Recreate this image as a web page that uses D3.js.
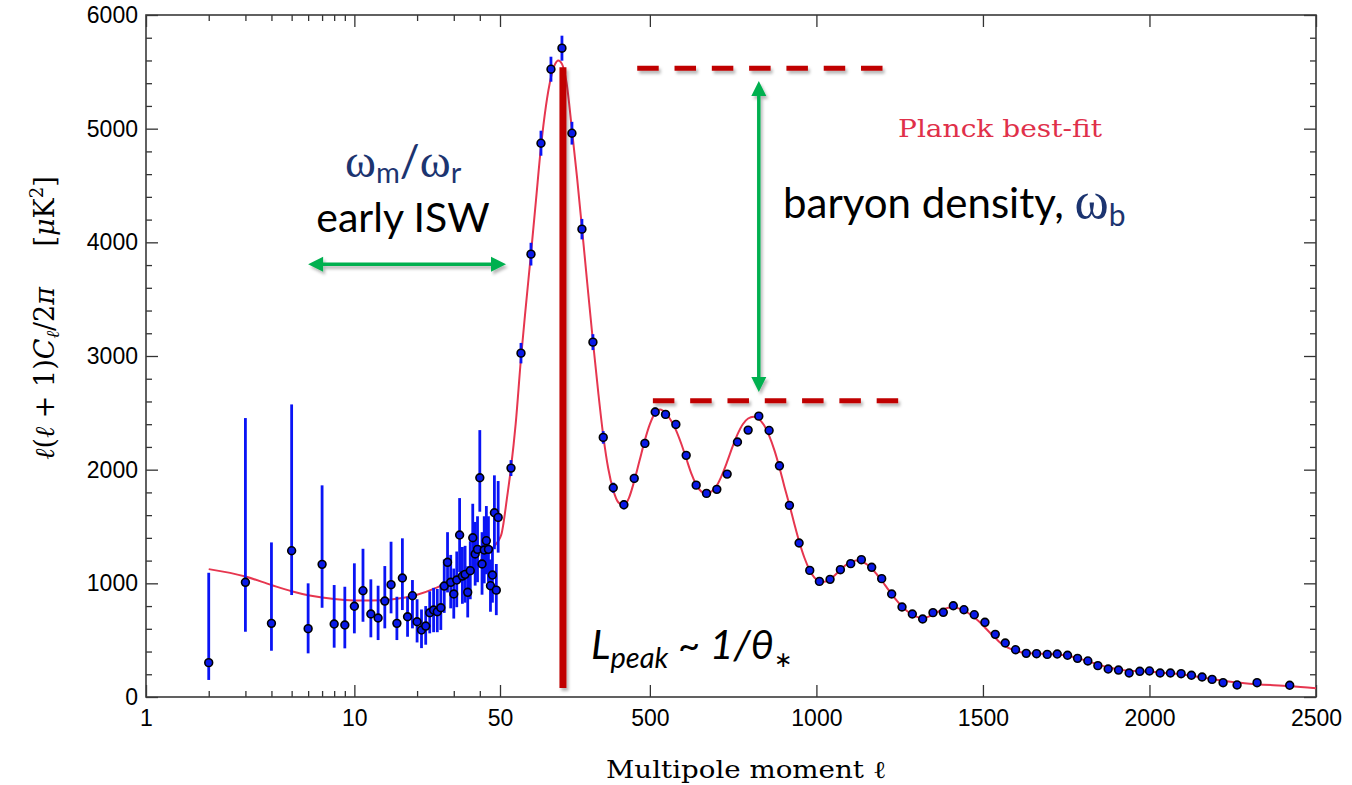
<!DOCTYPE html>
<html>
<head>
<meta charset="utf-8">
<script src="https://cdn.jsdelivr.net/npm/d3@7"></script>
<style>
  html, body { margin: 0; padding: 0; background: #fff; }
  svg { display: block; }
  .tick text { font-family: "Liberation Sans", Arial, sans-serif; font-size: 23px; fill: #000; }
  .tick line { stroke: #333; stroke-width: 1.3; }
</style>
</head>
<body>
<svg id="chart" width="1352" height="785"></svg>
<script>
// ---- Low-ℓ (unbinned) TT band powers, ℓ = 2..49 ----
const lowEll = [2,3,4,5,6,7,8,9,10,11,12,13,14,15,16,17,18,19,20,21,22,23,24,25,26,27,28,29,30,31,32,33,34,35,36,37,38,39,40,41,42,43,44,45,46,47,48,49];
const lowVal = [302,1009,648,1287,601,1167,642,633,798,935,730,695,844,988,648,1047,706,891,662,589,624,741,765,750,785,976,1185,1009,906,1029,1425,1064,1079,921,1111,1401,1258,1299,1929,1170,1293,1375,1299,979,1073,1621,940,1580];
const lowLo  = [150,574,407,897,384,785,434,428,560,662,525,501,604,736,501,765,530,604,480,430,460,560,570,570,590,740,920,780,690,790,1100,820,830,700,860,1100,980,1010,1630,900,1000,1080,1010,750,830,1300,720,1270];
const lowHi  = [1093,2454,1360,2574,1000,1862,985,970,1176,1304,1035,979,1152,1366,882,1396,882,1029,860,770,800,930,960,950,990,1210,1450,1250,1130,1280,1750,1320,1330,1150,1370,1700,1540,1590,2348,1450,1590,1680,1590,1210,1320,1950,1170,1900];

// ---- High-ℓ binned TT band powers ----
const highEll = [83,113,143,173,203,236,266,296,329,360,390,422,453,485,516,547,578,609,639,670,701,732,763,795,827,858,889,919,948,980,1009,1041,1072,1103,1135,1166,1196,1226,1257,1288,1319,1350,1381,1411,1443,1474,1506,1537,1567,1598,1630,1661,1693,1723,1754,1784,1815,1845,1876,1907,1939,1971,2000,2032,2063,2095,2126,2158,2188,2221,2263,2323,2421];
const highVal = [2014,3025,3896,4872,5523,5708,4960,4116,3122,2284,1841,1691,1923,2231,2507,2486,2398,2126,1864,1791,1827,1961,2243,2348,2471,2345,2034,1686,1355,1114,1017,1035,1120,1173,1208,1141,1041,906,792,730,686,742,745,803,768,724,657,551,475,416,384,381,375,378,367,340,317,276,246,237,211,226,229,211,211,205,191,176,155,126,106,126,103];
const highErr = [70,90,100,110,110,110,100,90,70,55,45,40,40,40,40,35,35,30,30,30,30,30,30,30,30,30,28,25,22,20,20,20,20,20,20,20,18,18,16,15,15,15,15,15,15,15,14,14,13,13,12,12,12,12,12,12,12,12,12,12,12,12,12,12,12,12,12,12,12,12,15,18,20];

// ---- Best-fit ΛCDM model spectrum ----
const fitEll = [2,3,4,5,6,7,8,10,12,15,20,25,30,35,40,45,48,50,55,60,70,83,97,113,128,143,158,173,188,203,215,225,236,250,266,281,296,312,329,345,360,375,390,406,422,437,453,469,485,500,516,531,547,562,578,594,609,624,639,655,670,686,701,716,732,748,763,779,795,811,827,843,858,874,889,904,919,934,948,964,980,994,1009,1025,1041,1057,1072,1088,1103,1119,1135,1150,1166,1181,1196,1211,1226,1242,1257,1273,1288,1304,1319,1335,1350,1365,1381,1396,1411,1427,1443,1458,1474,1490,1506,1521,1537,1552,1567,1583,1598,1614,1630,1661,1693,1723,1754,1784,1815,1845,1876,1907,1939,1971,2000,2032,2063,2095,2126,2158,2188,2221,2263,2323,2421,2500];
const fitVal = [1125,1060,985,930,895,875,862,850,848,858,900,965,1035,1110,1195,1290,1350,1400,1440,1520,1730,2015,2400,2980,3450,3900,4370,4840,5200,5450,5565,5600,5570,5400,4990,4580,4130,3640,3130,2680,2300,2010,1820,1710,1690,1750,1900,2080,2260,2400,2500,2530,2500,2440,2350,2230,2100,1970,1870,1805,1785,1810,1860,1950,2070,2200,2310,2400,2450,2465,2445,2390,2300,2170,2020,1850,1690,1520,1370,1225,1115,1050,1020,1015,1035,1075,1120,1160,1185,1200,1195,1170,1130,1080,1025,965,905,845,795,755,725,703,695,705,725,750,770,785,788,780,762,735,700,660,612,565,520,478,448,423,405,393,387,382,379,374,362,342,315,287,262,243,232,226,222,216,208,198,186,172,158,143,127,112,96,76];

// ---- Axis ticks ----
const logMajorTicks = [1,10,50];
const logMinorTicks = [2,3,4,5,6,7,8,9,20,30,40];
const linMajorTicks = [500,1000,1500,2000,2500];
const yMajorTicks = [0,1000,2000,3000,4000,5000,6000];
const yMinorTicks = d3.range(200, 6000, 200).filter(v => v % 1000 !== 0);

// ---- Annotation values (data units) ----
const peakEll = 239;            // ℓ of the first acoustic peak marker
const peakBar = [80, 5540];     // vertical extent of the marker
const peak1Level = 5531, peak1Span = [462, 1200];
const peak2Level = 2606, peak2Span = [509, 1250];
const baryonArrow = {ell: 827, from: 2683, to: 5420};
const iswArrow = {level: 3808, from: 6.0, to: 68};

// ---- Layout ----
const W = 1352, H = 785;
const plotLeft = 146, plotRight = 1316, plotTop = 15, plotBottom = 697, splitX = 500;

const xLog = d3.scaleLog().domain([1, 50]).range([plotLeft, splitX]);
const xLin = d3.scaleLinear().domain([50, 2500]).range([splitX, plotRight]);
const x = l => (l <= 50 ? xLog(l) : xLin(l));
const y = d3.scaleLinear().domain([0, 6000]).range([plotBottom, plotTop]);

const svg = d3.select("#chart");
svg.append("rect").attr("width", W).attr("height", H).attr("fill", "#fff");

const defs = svg.append("defs");
const sh = defs.append("filter").attr("id", "shadow")
  .attr("filterUnits", "userSpaceOnUse")
  .attr("x", -50).attr("y", -50).attr("width", W + 100).attr("height", H + 100);
sh.append("feDropShadow").attr("dx", 2).attr("dy", 3).attr("stdDeviation", 1.6)
  .attr("flood-color", "#000").attr("flood-opacity", 0.28);
defs.append("clipPath").attr("id", "plotclip").append("rect")
  .attr("x", plotLeft).attr("y", plotTop).attr("width", plotRight - plotLeft).attr("height", plotBottom - plotTop);

// ---- Axes (ticks point inward on all four sides) ----
function clean(g) { g.select(".domain").remove(); }
const ax = svg.append("g");
ax.append("g").attr("transform", `translate(0,${plotBottom})`)
  .call(d3.axisBottom(xLog).tickValues(logMinorTicks).tickSize(-6).tickFormat("")).call(clean);
ax.append("g").attr("transform", `translate(0,${plotBottom})`)
  .call(d3.axisBottom(xLog).tickValues(logMajorTicks).tickSize(-12).tickPadding(13).tickFormat(d3.format("d"))).call(clean);
ax.append("g").attr("transform", `translate(0,${plotBottom})`)
  .call(d3.axisBottom(xLin).tickValues(linMajorTicks).tickSize(-12).tickPadding(13).tickFormat(d3.format("d"))).call(clean);
ax.append("g").attr("transform", `translate(0,${plotTop})`)
  .call(d3.axisTop(xLog).tickValues(logMinorTicks).tickSize(-6).tickFormat("")).call(clean);
ax.append("g").attr("transform", `translate(0,${plotTop})`)
  .call(d3.axisTop(xLog).tickValues(logMajorTicks).tickSize(-12).tickFormat("")).call(clean);
ax.append("g").attr("transform", `translate(0,${plotTop})`)
  .call(d3.axisTop(xLin).tickValues(linMajorTicks).tickSize(-12).tickFormat("")).call(clean);
ax.append("g").attr("transform", `translate(${plotLeft},0)`)
  .call(d3.axisLeft(y).tickValues(yMajorTicks).tickSize(-12).tickPadding(8).tickFormat(d3.format("d"))).call(clean);
ax.append("g").attr("transform", `translate(${plotLeft},0)`)
  .call(d3.axisLeft(y).tickValues(yMinorTicks).tickSize(-6).tickFormat("")).call(clean);
ax.append("g").attr("transform", `translate(${plotRight},0)`)
  .call(d3.axisRight(y).tickValues(yMajorTicks).tickSize(-12).tickFormat("")).call(clean);
ax.append("g").attr("transform", `translate(${plotRight},0)`)
  .call(d3.axisRight(y).tickValues(yMinorTicks).tickSize(-6).tickFormat("")).call(clean);

svg.append("rect").attr("x", plotLeft).attr("y", plotTop)
  .attr("width", plotRight - plotLeft).attr("height", plotBottom - plotTop)
  .attr("fill", "none").attr("stroke", "#3a3a3a").attr("stroke-width", 1.6);

// ---- Model curve ----
const plot = svg.append("g").attr("clip-path", "url(#plotclip)");
const fit = fitEll.map((l, i) => [l, fitVal[i]]);
plot.append("path").datum(fit)
  .attr("d", d3.line().x(d => x(d[0])).y(d => y(d[1])).curve(d3.curveMonotoneX))
  .attr("fill", "none").attr("stroke", "#e6364f").attr("stroke-width", 2);

// ---- Error bars ----
const low = lowEll.map((l, i) => ({l, v: lowVal[i], lo: lowLo[i], hi: lowHi[i]}));
const high = highEll.map((l, i) => ({l, v: highVal[i], lo: highVal[i] - highErr[i], hi: highVal[i] + highErr[i]}));
plot.selectAll("line.err").data(low.concat(high)).join("line").attr("class", "err")
  .attr("x1", d => x(d.l)).attr("x2", d => x(d.l))
  .attr("y1", d => y(d.lo)).attr("y2", d => y(d.hi))
  .attr("stroke", "#0a14f5").attr("stroke-width", 2.8);

// ---- Data points ----
plot.selectAll("circle.pt").data(low.concat(high)).join("circle").attr("class", "pt")
  .attr("cx", d => x(d.l)).attr("cy", d => y(d.v)).attr("r", 3.9)
  .attr("fill", "#0a1ae8").attr("stroke", "#000").attr("stroke-width", 1.6);

// ---- Annotations ----
const red = "#c00000", green = "#00b050", navy = "#1c3470";
const ann = svg.append("g");

// first-peak marker
ann.append("line")
  .attr("x1", x(peakEll)).attr("x2", x(peakEll))
  .attr("y1", y(peakBar[0])).attr("y2", y(peakBar[1]))
  .attr("stroke", red).attr("stroke-width", 7).attr("filter", "url(#shadow)");

// dashed peak-height levels
[[peak1Level, peak1Span], [peak2Level, peak2Span]].forEach(([lev, span]) => {
  ann.append("line")
    .attr("x1", x(span[0])).attr("x2", x(span[1]))
    .attr("y1", y(lev)).attr("y2", y(lev))
    .attr("stroke", red).attr("stroke-width", 5)
    .attr("stroke-dasharray", "21.5,15.8").attr("filter", "url(#shadow)");
});

// double-headed arrows
function doubleArrow(x1, y1, x2, y2) {
  const g = ann.append("g").attr("filter", "url(#shadow)");
  const ang = Math.atan2(y2 - y1, x2 - x1);
  const hl = 15, hw = 7.5;
  const ux = Math.cos(ang), uy = Math.sin(ang);
  g.append("line")
    .attr("x1", x1 + ux * (hl - 2)).attr("y1", y1 + uy * (hl - 2))
    .attr("x2", x2 - ux * (hl - 2)).attr("y2", y2 - uy * (hl - 2))
    .attr("stroke", green).attr("stroke-width", 3.5);
  const head = (tx, ty, dir) => {
    const bx = tx - dir * ux * hl, by = ty - dir * uy * hl;
    return [[tx, ty], [bx - uy * hw, by + ux * hw], [bx + uy * hw, by - ux * hw]];
  };
  [head(x2, y2, 1), head(x1, y1, -1)].forEach(p =>
    g.append("polygon").attr("points", p.map(q => q.join(",")).join(" ")).attr("fill", green));
}
doubleArrow(x(baryonArrow.ell), y(baryonArrow.from), x(baryonArrow.ell), y(baryonArrow.to));
doubleArrow(x(iswArrow.from), y(iswArrow.level), x(iswArrow.to), y(iswArrow.level));

// labels
const sans = "Lato, 'Open Sans', sans-serif";
const serif = "'Liberation Serif', 'DejaVu Serif', serif";
const cm = "'DejaVu Serif', 'Liberation Serif', serif";

const t1 = ann.append("text").attr("x", 345).attr("y", 177).attr("fill", navy);
t1.append("tspan").attr("font-family", serif).attr("font-size", 47).text("ω");
t1.append("tspan").attr("font-family", sans).attr("font-size", 29).attr("dy", 6).text("m");
t1.append("tspan").attr("font-family", sans).attr("font-size", 44).attr("dy", -6).text("/");
t1.append("tspan").attr("font-family", serif).attr("font-size", 47).text("ω");
t1.append("tspan").attr("font-family", sans).attr("font-size", 29).attr("dy", 6).text("r");

ann.append("text").attr("x", 403).attr("y", 232).attr("text-anchor", "middle")
  .attr("font-family", sans).attr("font-size", 41).attr("fill", "#000").text("early ISW");

const t2 = ann.append("text").attr("x", 783).attr("y", 218);
t2.append("tspan").attr("font-family", sans).attr("font-size", 42).attr("fill", "#000").text("baryon density, ");
t2.append("tspan").attr("font-family", serif).attr("font-size", 52).attr("fill", navy).text("ω");
t2.append("tspan").attr("font-family", sans).attr("font-size", 30).attr("fill", navy).attr("dy", 8).text("b");

ann.append("text").attr("x", 898).attr("y", 137)
  .attr("font-family", cm).attr("font-size", 24).attr("fill", "#e0304a")
  .attr("textLength", 204).attr("lengthAdjust", "spacingAndGlyphs").text("Planck best-fit");

const t3 = ann.append("text").attr("x", 591).attr("y", 659).attr("fill", "#000")
  .attr("font-family", sans).attr("font-style", "italic");
t3.append("tspan").attr("font-size", 41).text("L");
t3.append("tspan").attr("font-size", 29).attr("dy", 9).text("peak");
t3.append("tspan").attr("font-size", 38).attr("font-style", "normal").attr("dy", -9).text(" ~ ");
t3.append("tspan").attr("font-size", 41).text("1/θ");
t3.append("tspan").attr("font-size", 22).attr("font-style", "normal").attr("dy", 8).text("∗");

// axis titles
svg.append("text").attr("x", 746).attr("y", 778).attr("text-anchor", "middle")
  .attr("font-family", cm).attr("font-size", 24).attr("fill", "#000")
  .attr("textLength", 280).attr("lengthAdjust", "spacingAndGlyphs")
  .text("Multipole moment ℓ");

const yTitle = svg.append("text").attr("transform", "translate(54,318) rotate(-90)")
  .attr("text-anchor", "middle").attr("font-family", cm).attr("font-size", 27).attr("fill", "#000");
yTitle.append("tspan").attr("font-style", "italic").text("ℓ");
yTitle.append("tspan").text("(");
yTitle.append("tspan").attr("font-style", "italic").text("ℓ");
yTitle.append("tspan").text(" + 1)");
yTitle.append("tspan").attr("font-style", "italic").text("C");
yTitle.append("tspan").attr("font-style", "italic").attr("font-size", 18).attr("dy", 5).text("ℓ");
yTitle.append("tspan").attr("dy", -5).text("/2");
yTitle.append("tspan").attr("font-style", "italic").text("π");
yTitle.append("tspan").text("\u2003\u2002[");
yTitle.append("tspan").attr("font-style", "italic").text("μ");
yTitle.append("tspan").text("K");
yTitle.append("tspan").attr("font-size", 18).attr("dy", -11).text("2");
yTitle.append("tspan").attr("dy", 11).text("]");
</script>
</body>
</html>
